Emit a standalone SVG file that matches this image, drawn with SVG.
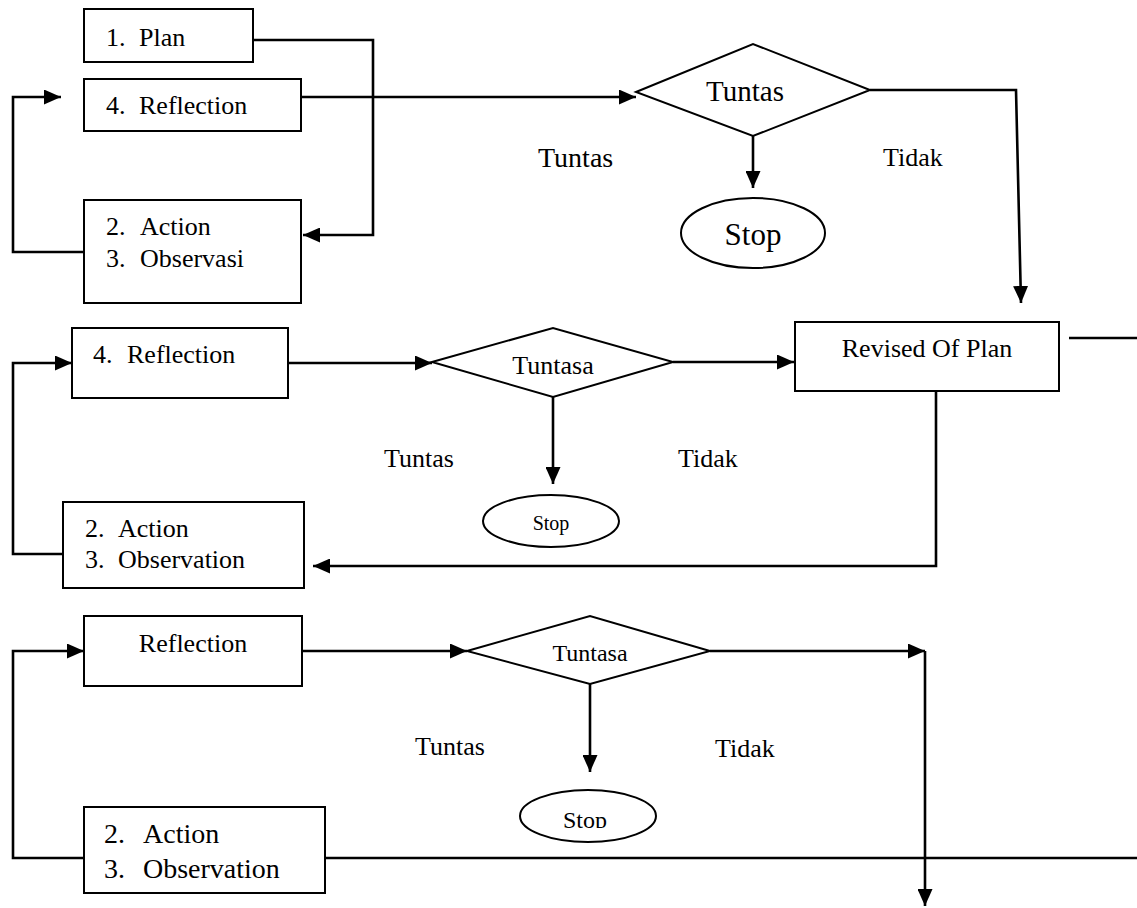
<svg xmlns="http://www.w3.org/2000/svg" width="1137" height="908" viewBox="0 0 1137 908">
<style>
.box{fill:#fff;stroke:#000;stroke-width:2}
.shape{fill:#fff;stroke:#000;stroke-width:2}
.con{fill:none;stroke:#000;stroke-width:2.6}
.arr{marker-end:url(#ah)}
text{font-family:"Liberation Serif","Times New Roman",serif;fill:#000;font-size:26px}
.c{text-anchor:middle}
</style>
<defs>
<marker id="ah" markerUnits="userSpaceOnUse" markerWidth="17" markerHeight="15" refX="17" refY="7.5" orient="auto">
<path d="M0,0 L17,7.5 L0,15 z" fill="#000"/>
</marker>
<clipPath id="stop3clip"><rect x="500" y="780" width="180" height="48"/></clipPath>
</defs>
<rect width="1137" height="908" fill="#fff"/>

<g id="connectors">
<polyline class="con arr" points="253,40 373,40 373,235 303,235"/>
<polyline class="con arr" points="84,252 13,252 13,97 61,97"/>
<line class="con arr" x1="301" y1="97" x2="636" y2="97"/>
<line class="con arr" x1="753" y1="136" x2="753" y2="188"/>
<polyline class="con arr" points="870,90 1016,90 1021,303"/>
<line class="con" x1="1069" y1="338" x2="1137" y2="338"/>
<polyline class="con arr" points="63,554 13,554 13,363 72,363"/>
<line class="con arr" x1="288" y1="363" x2="432" y2="363"/>
<line class="con arr" x1="673" y1="362" x2="794" y2="362"/>
<line class="con arr" x1="553" y1="397" x2="553" y2="484"/>
<polyline class="con arr" points="936,391 936,566 313,566"/>
<polyline class="con arr" points="84,858 13,858 13,651 84,651"/>
<line class="con arr" x1="302" y1="651" x2="467" y2="651"/>
<line class="con arr" x1="590" y1="684" x2="590" y2="772"/>
<line class="con arr" x1="710" y1="651" x2="925" y2="651"/>
<line class="con arr" x1="925" y1="651" x2="925" y2="906"/>
<line class="con" x1="325" y1="858" x2="1137" y2="858"/>
</g>

<g id="plan1">
<rect class="box" x="84" y="9" width="169" height="53"/>
<text x="106" y="46">1.<tspan x="139">Plan</tspan></text>
</g>
<g id="reflection1">
<rect class="box" x="84" y="79" width="217" height="52"/>
<text x="106" y="114">4.<tspan x="139">Reflection</tspan></text>
</g>
<g id="action1">
<rect class="box" x="84" y="200" width="217" height="103"/>
<text x="106" y="235">2.<tspan x="140">Action</tspan></text>
<text x="106" y="267">3.<tspan x="140">Observasi</tspan></text>
</g>
<g id="decision1">
<polygon class="shape" points="636,92 753,44 870,90 753,136"/>
<text class="c" x="745" y="101" style="font-size:29px">Tuntas</text>
</g>
<g id="stop1">
<ellipse class="shape" cx="753" cy="233" rx="72" ry="35"/>
<text class="c" x="753" y="245" style="font-size:31px">Stop</text>
</g>
<g id="labels1">
<text x="538" y="167" style="font-size:28px">Tuntas</text>
<text x="883" y="166">Tidak</text>
</g>

<g id="revised">
<rect class="box" x="795" y="322" width="264" height="69"/>
<text class="c" x="927" y="357">Revised Of Plan</text>
</g>
<g id="reflection2">
<rect class="box" x="72" y="328" width="216" height="70"/>
<text x="93" y="363">4.<tspan x="127">Reflection</tspan></text>
</g>
<g id="action2">
<rect class="box" x="63" y="502" width="241" height="86"/>
<text x="85" y="537">2.<tspan x="118">Action</tspan></text>
<text x="85" y="568">3.<tspan x="118">Observation</tspan></text>
</g>
<g id="decision2">
<polygon class="shape" points="432,362 553,328 673,362 553,397"/>
<text class="c" x="553" y="374">Tuntasa</text>
</g>
<g id="stop2">
<ellipse class="shape" cx="551" cy="521" rx="68" ry="26"/>
<text class="c" x="551" y="530" style="font-size:20px">Stop</text>
</g>
<g id="labels2">
<text x="384" y="467">Tuntas</text>
<text x="678" y="467">Tidak</text>
</g>

<g id="reflection3">
<rect class="box" x="84" y="616" width="218" height="70"/>
<text class="c" x="193" y="652">Reflection</text>
</g>
<g id="action3">
<rect class="box" x="84" y="807" width="241" height="86"/>
<text x="104" y="843" style="font-size:28px">2.<tspan x="143">Action</tspan></text>
<text x="104" y="878" style="font-size:28px">3.<tspan x="143">Observation</tspan></text>
</g>
<g id="decision3">
<polygon class="shape" points="467,651 590,616 710,651 590,684"/>
<text class="c" x="590" y="661" style="font-size:24px">Tuntasa</text>
</g>
<g id="stop3">
<ellipse class="shape" cx="588" cy="816" rx="68" ry="26"/>
<text class="c" x="585" y="828" style="font-size:24px" clip-path="url(#stop3clip)">Stop</text>
</g>
<g id="labels3">
<text x="415" y="755">Tuntas</text>
<text x="715" y="757">Tidak</text>
</g>
</svg>
